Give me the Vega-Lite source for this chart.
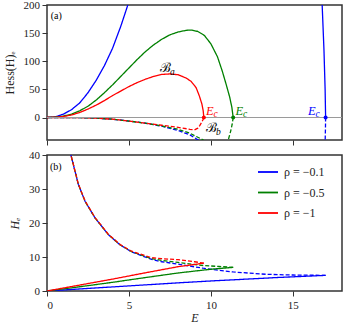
{
  "$schema": "https://vega.github.io/schema/vega-lite/v6.json",
  "padding": {"left": 2, "top": -2, "right": 0, "bottom": 0},
  "spacing": 15,
  "bounds": "flush",
  "datasets": {
    "hess": [
      {"r": "ρ = −0.1", "b": "a", "i": 0, "E": 0, "v": 0},
      {"r": "ρ = −0.1", "b": "a", "i": 1, "E": 0.5, "v": 1},
      {"r": "ρ = −0.1", "b": "a", "i": 2, "E": 1, "v": 6},
      {"r": "ρ = −0.1", "b": "a", "i": 3, "E": 1.5, "v": 14},
      {"r": "ρ = −0.1", "b": "a", "i": 4, "E": 2, "v": 26},
      {"r": "ρ = −0.1", "b": "a", "i": 5, "E": 2.5, "v": 44},
      {"r": "ρ = −0.1", "b": "a", "i": 6, "E": 3, "v": 66},
      {"r": "ρ = −0.1", "b": "a", "i": 7, "E": 3.5, "v": 92},
      {"r": "ρ = −0.1", "b": "a", "i": 8, "E": 4, "v": 123},
      {"r": "ρ = −0.1", "b": "a", "i": 9, "E": 4.5, "v": 162},
      {"r": "ρ = −0.1", "b": "a", "i": 10, "E": 5, "v": 206},
      {"r": "ρ = −0.1", "b": "a", "i": 11, "E": 5.5, "v": 255},
      {"r": "ρ = −0.1", "b": "a", "i": 12, "E": 6, "v": 310},
      {"r": "ρ = −0.1", "b": "a", "i": 13, "E": 8, "v": 500},
      {"r": "ρ = −0.1", "b": "a", "i": 14, "E": 12, "v": 700},
      {"r": "ρ = −0.1", "b": "a", "i": 15, "E": 15, "v": 600},
      {"r": "ρ = −0.1", "b": "a", "i": 16, "E": 16.4, "v": 380},
      {"r": "ρ = −0.1", "b": "a", "i": 17, "E": 16.79, "v": 200},
      {"r": "ρ = −0.1", "b": "a", "i": 18, "E": 16.9, "v": 120},
      {"r": "ρ = −0.1", "b": "a", "i": 19, "E": 16.97, "v": 50},
      {"r": "ρ = −0.1", "b": "a", "i": 20, "E": 17.0, "v": 0},
      {"r": "ρ = −0.1", "b": "b", "i": 0, "E": 17.0, "v": 0},
      {"r": "ρ = −0.1", "b": "b", "i": 1, "E": 16.99, "v": -20},
      {"r": "ρ = −0.1", "b": "b", "i": 2, "E": 16.97, "v": -45},
      {"r": "ρ = −0.1", "b": "b", "i": 3, "E": 16.8, "v": -80},
      {"r": "ρ = −0.1", "b": "b", "i": 4, "E": 14, "v": -200},
      {"r": "ρ = −0.1", "b": "b", "i": 5, "E": 10, "v": -60},
      {"r": "ρ = −0.1", "b": "b", "i": 6, "E": 9.23, "v": -40},
      {"r": "ρ = −0.1", "b": "b", "i": 7, "E": 8.72, "v": -31},
      {"r": "ρ = −0.1", "b": "b", "i": 8, "E": 8, "v": -23},
      {"r": "ρ = −0.1", "b": "b", "i": 9, "E": 7, "v": -15.5},
      {"r": "ρ = −0.1", "b": "b", "i": 10, "E": 6, "v": -10.2},
      {"r": "ρ = −0.1", "b": "b", "i": 11, "E": 5, "v": -6.3},
      {"r": "ρ = −0.1", "b": "b", "i": 12, "E": 4, "v": -3},
      {"r": "ρ = −0.1", "b": "b", "i": 13, "E": 3, "v": -1.1},
      {"r": "ρ = −0.1", "b": "b", "i": 14, "E": 2, "v": -0.3},
      {"r": "ρ = −0.1", "b": "b", "i": 15, "E": 1, "v": -0.05},
      {"r": "ρ = −0.1", "b": "b", "i": 16, "E": 0, "v": 0},
      {"r": "ρ = −0.5", "b": "a", "i": 0, "E": 0, "v": 0},
      {"r": "ρ = −0.5", "b": "a", "i": 1, "E": 0.5, "v": 0.6},
      {"r": "ρ = −0.5", "b": "a", "i": 2, "E": 1, "v": 2.5},
      {"r": "ρ = −0.5", "b": "a", "i": 3, "E": 1.5, "v": 6},
      {"r": "ρ = −0.5", "b": "a", "i": 4, "E": 2, "v": 12},
      {"r": "ρ = −0.5", "b": "a", "i": 5, "E": 2.5, "v": 20},
      {"r": "ρ = −0.5", "b": "a", "i": 6, "E": 3, "v": 31},
      {"r": "ρ = −0.5", "b": "a", "i": 7, "E": 3.5, "v": 44},
      {"r": "ρ = −0.5", "b": "a", "i": 8, "E": 4, "v": 58},
      {"r": "ρ = −0.5", "b": "a", "i": 9, "E": 4.5, "v": 73},
      {"r": "ρ = −0.5", "b": "a", "i": 10, "E": 5, "v": 88},
      {"r": "ρ = −0.5", "b": "a", "i": 11, "E": 5.5, "v": 103},
      {"r": "ρ = −0.5", "b": "a", "i": 12, "E": 6, "v": 117},
      {"r": "ρ = −0.5", "b": "a", "i": 13, "E": 6.5, "v": 129},
      {"r": "ρ = −0.5", "b": "a", "i": 14, "E": 7, "v": 139},
      {"r": "ρ = −0.5", "b": "a", "i": 15, "E": 7.5, "v": 147},
      {"r": "ρ = −0.5", "b": "a", "i": 16, "E": 8, "v": 152},
      {"r": "ρ = −0.5", "b": "a", "i": 17, "E": 8.5, "v": 155},
      {"r": "ρ = −0.5", "b": "a", "i": 18, "E": 8.8, "v": 155.5},
      {"r": "ρ = −0.5", "b": "a", "i": 19, "E": 9.2, "v": 153},
      {"r": "ρ = −0.5", "b": "a", "i": 20, "E": 9.6, "v": 146},
      {"r": "ρ = −0.5", "b": "a", "i": 21, "E": 10, "v": 131},
      {"r": "ρ = −0.5", "b": "a", "i": 22, "E": 10.4, "v": 108},
      {"r": "ρ = −0.5", "b": "a", "i": 23, "E": 10.7, "v": 82},
      {"r": "ρ = −0.5", "b": "a", "i": 24, "E": 10.95, "v": 57},
      {"r": "ρ = −0.5", "b": "a", "i": 25, "E": 11.15, "v": 36},
      {"r": "ρ = −0.5", "b": "a", "i": 26, "E": 11.28, "v": 18},
      {"r": "ρ = −0.5", "b": "a", "i": 27, "E": 11.36, "v": 0},
      {"r": "ρ = −0.5", "b": "b", "i": 0, "E": 11.36, "v": 0},
      {"r": "ρ = −0.5", "b": "b", "i": 1, "E": 11.3, "v": -12},
      {"r": "ρ = −0.5", "b": "b", "i": 2, "E": 11.2, "v": -25},
      {"r": "ρ = −0.5", "b": "b", "i": 3, "E": 11.06, "v": -40},
      {"r": "ρ = −0.5", "b": "b", "i": 4, "E": 10.9, "v": -50},
      {"r": "ρ = −0.5", "b": "b", "i": 5, "E": 10.4, "v": -58},
      {"r": "ρ = −0.5", "b": "b", "i": 6, "E": 9.9, "v": -50},
      {"r": "ρ = −0.5", "b": "b", "i": 7, "E": 9.53, "v": -40},
      {"r": "ρ = −0.5", "b": "b", "i": 8, "E": 8.72, "v": -28},
      {"r": "ρ = −0.5", "b": "b", "i": 9, "E": 8, "v": -21},
      {"r": "ρ = −0.5", "b": "b", "i": 10, "E": 7, "v": -15},
      {"r": "ρ = −0.5", "b": "b", "i": 11, "E": 6, "v": -10.1},
      {"r": "ρ = −0.5", "b": "b", "i": 12, "E": 5, "v": -6.3},
      {"r": "ρ = −0.5", "b": "b", "i": 13, "E": 4, "v": -3},
      {"r": "ρ = −0.5", "b": "b", "i": 14, "E": 3, "v": -1.1},
      {"r": "ρ = −0.5", "b": "b", "i": 15, "E": 2, "v": -0.3},
      {"r": "ρ = −0.5", "b": "b", "i": 16, "E": 1, "v": -0.05},
      {"r": "ρ = −0.5", "b": "b", "i": 17, "E": 0, "v": 0},
      {"r": "ρ = −1", "b": "a", "i": 0, "E": 0, "v": 0},
      {"r": "ρ = −1", "b": "a", "i": 1, "E": 0.5, "v": 0.3},
      {"r": "ρ = −1", "b": "a", "i": 2, "E": 1, "v": 1.8},
      {"r": "ρ = −1", "b": "a", "i": 3, "E": 1.5, "v": 4.5},
      {"r": "ρ = −1", "b": "a", "i": 4, "E": 2, "v": 9},
      {"r": "ρ = −1", "b": "a", "i": 5, "E": 2.5, "v": 15},
      {"r": "ρ = −1", "b": "a", "i": 6, "E": 3, "v": 22},
      {"r": "ρ = −1", "b": "a", "i": 7, "E": 3.5, "v": 30},
      {"r": "ρ = −1", "b": "a", "i": 8, "E": 4, "v": 39},
      {"r": "ρ = −1", "b": "a", "i": 9, "E": 4.5, "v": 47},
      {"r": "ρ = −1", "b": "a", "i": 10, "E": 5, "v": 55},
      {"r": "ρ = −1", "b": "a", "i": 11, "E": 5.5, "v": 62},
      {"r": "ρ = −1", "b": "a", "i": 12, "E": 6, "v": 68},
      {"r": "ρ = −1", "b": "a", "i": 13, "E": 6.5, "v": 73},
      {"r": "ρ = −1", "b": "a", "i": 14, "E": 7, "v": 76.5},
      {"r": "ρ = −1", "b": "a", "i": 15, "E": 7.5, "v": 77.5},
      {"r": "ρ = −1", "b": "a", "i": 16, "E": 8, "v": 76},
      {"r": "ρ = −1", "b": "a", "i": 17, "E": 8.5, "v": 70},
      {"r": "ρ = −1", "b": "a", "i": 18, "E": 8.8, "v": 64},
      {"r": "ρ = −1", "b": "a", "i": 19, "E": 9.1, "v": 53},
      {"r": "ρ = −1", "b": "a", "i": 20, "E": 9.3, "v": 38},
      {"r": "ρ = −1", "b": "a", "i": 21, "E": 9.45, "v": 24},
      {"r": "ρ = −1", "b": "a", "i": 22, "E": 9.53, "v": 12},
      {"r": "ρ = −1", "b": "a", "i": 23, "E": 9.57, "v": 0},
      {"r": "ρ = −1", "b": "b", "i": 0, "E": 9.57, "v": 0},
      {"r": "ρ = −1", "b": "b", "i": 1, "E": 9.53, "v": -3},
      {"r": "ρ = −1", "b": "b", "i": 2, "E": 9.45, "v": -8},
      {"r": "ρ = −1", "b": "b", "i": 3, "E": 9.33, "v": -14},
      {"r": "ρ = −1", "b": "b", "i": 4, "E": 9.2, "v": -19},
      {"r": "ρ = −1", "b": "b", "i": 5, "E": 9.0, "v": -22},
      {"r": "ρ = −1", "b": "b", "i": 6, "E": 8.72, "v": -21},
      {"r": "ρ = −1", "b": "b", "i": 7, "E": 8, "v": -17.5},
      {"r": "ρ = −1", "b": "b", "i": 8, "E": 7, "v": -13.8},
      {"r": "ρ = −1", "b": "b", "i": 9, "E": 6, "v": -10},
      {"r": "ρ = −1", "b": "b", "i": 10, "E": 5, "v": -6.3},
      {"r": "ρ = −1", "b": "b", "i": 11, "E": 4, "v": -3},
      {"r": "ρ = −1", "b": "b", "i": 12, "E": 3, "v": -1.2},
      {"r": "ρ = −1", "b": "b", "i": 13, "E": 2, "v": -0.3},
      {"r": "ρ = −1", "b": "b", "i": 14, "E": 1, "v": -0.05},
      {"r": "ρ = −1", "b": "b", "i": 15, "E": 0, "v": 0}
    ],
    "he": [
      {"r": "ρ = −0.1", "b": "a", "i": 0, "E": 0, "v": 0},
      {"r": "ρ = −0.1", "b": "a", "i": 1, "E": 2, "v": 0.6},
      {"r": "ρ = −0.1", "b": "a", "i": 2, "E": 4, "v": 1.2},
      {"r": "ρ = −0.1", "b": "a", "i": 3, "E": 6, "v": 1.8},
      {"r": "ρ = −0.1", "b": "a", "i": 4, "E": 8, "v": 2.4},
      {"r": "ρ = −0.1", "b": "a", "i": 5, "E": 10, "v": 2.95},
      {"r": "ρ = −0.1", "b": "a", "i": 6, "E": 12, "v": 3.45},
      {"r": "ρ = −0.1", "b": "a", "i": 7, "E": 14, "v": 3.95},
      {"r": "ρ = −0.1", "b": "a", "i": 8, "E": 17, "v": 4.6},
      {"r": "ρ = −0.1", "b": "b", "i": 0, "E": 17, "v": 4.6},
      {"r": "ρ = −0.1", "b": "b", "i": 1, "E": 15, "v": 4.7},
      {"r": "ρ = −0.1", "b": "b", "i": 2, "E": 13.4, "v": 4.9},
      {"r": "ρ = −0.1", "b": "b", "i": 3, "E": 11.36, "v": 5.6},
      {"r": "ρ = −0.1", "b": "b", "i": 4, "E": 9.53, "v": 6.7},
      {"r": "ρ = −0.1", "b": "b", "i": 5, "E": 8, "v": 7.9},
      {"r": "ρ = −0.1", "b": "b", "i": 6, "E": 7, "v": 8.6},
      {"r": "ρ = −0.1", "b": "b", "i": 7, "E": 6.38, "v": 9.3},
      {"r": "ρ = −0.1", "b": "b", "i": 8, "E": 5.16, "v": 11.5},
      {"r": "ρ = −0.1", "b": "b", "i": 9, "E": 4.45, "v": 13.6},
      {"r": "ρ = −0.1", "b": "b", "i": 10, "E": 3.74, "v": 16.6},
      {"r": "ρ = −0.1", "b": "b", "i": 11, "E": 2.93, "v": 21.5},
      {"r": "ρ = −0.1", "b": "b", "i": 12, "E": 2.32, "v": 26.4},
      {"r": "ρ = −0.1", "b": "b", "i": 13, "E": 1.91, "v": 31.4},
      {"r": "ρ = −0.1", "b": "b", "i": 14, "E": 1.46, "v": 40},
      {"r": "ρ = −0.1", "b": "b", "i": 15, "E": 1.3, "v": 45},
      {"r": "ρ = −0.5", "b": "a", "i": 0, "E": 0, "v": 0},
      {"r": "ρ = −0.5", "b": "a", "i": 1, "E": 2, "v": 1.25},
      {"r": "ρ = −0.5", "b": "a", "i": 2, "E": 4, "v": 2.55},
      {"r": "ρ = −0.5", "b": "a", "i": 3, "E": 6, "v": 3.95},
      {"r": "ρ = −0.5", "b": "a", "i": 4, "E": 8, "v": 5.3},
      {"r": "ρ = −0.5", "b": "a", "i": 5, "E": 10, "v": 6.4},
      {"r": "ρ = −0.5", "b": "a", "i": 6, "E": 11.36, "v": 6.95},
      {"r": "ρ = −0.5", "b": "b", "i": 0, "E": 11.36, "v": 6.95},
      {"r": "ρ = −0.5", "b": "b", "i": 1, "E": 10.5, "v": 7.2},
      {"r": "ρ = −0.5", "b": "b", "i": 2, "E": 9.53, "v": 7.5},
      {"r": "ρ = −0.5", "b": "b", "i": 3, "E": 8, "v": 8.4},
      {"r": "ρ = −0.5", "b": "b", "i": 4, "E": 7, "v": 9.0},
      {"r": "ρ = −0.5", "b": "b", "i": 5, "E": 6.38, "v": 9.5},
      {"r": "ρ = −0.5", "b": "b", "i": 6, "E": 5.16, "v": 11.6},
      {"r": "ρ = −0.5", "b": "b", "i": 7, "E": 4.45, "v": 13.6},
      {"r": "ρ = −0.5", "b": "b", "i": 8, "E": 3.74, "v": 16.6},
      {"r": "ρ = −0.5", "b": "b", "i": 9, "E": 2.93, "v": 21.5},
      {"r": "ρ = −0.5", "b": "b", "i": 10, "E": 2.32, "v": 26.4},
      {"r": "ρ = −0.5", "b": "b", "i": 11, "E": 1.91, "v": 31.4},
      {"r": "ρ = −0.5", "b": "b", "i": 12, "E": 1.46, "v": 40},
      {"r": "ρ = −0.5", "b": "b", "i": 13, "E": 1.3, "v": 45},
      {"r": "ρ = −1", "b": "a", "i": 0, "E": 0, "v": 0},
      {"r": "ρ = −1", "b": "a", "i": 1, "E": 2, "v": 1.75},
      {"r": "ρ = −1", "b": "a", "i": 2, "E": 4, "v": 3.5},
      {"r": "ρ = −1", "b": "a", "i": 3, "E": 6, "v": 5.35},
      {"r": "ρ = −1", "b": "a", "i": 4, "E": 8, "v": 7.15},
      {"r": "ρ = −1", "b": "a", "i": 5, "E": 9, "v": 7.8},
      {"r": "ρ = −1", "b": "a", "i": 6, "E": 9.57, "v": 8.2},
      {"r": "ρ = −1", "b": "b", "i": 0, "E": 9.57, "v": 8.2},
      {"r": "ρ = −1", "b": "b", "i": 1, "E": 9, "v": 8.6},
      {"r": "ρ = −1", "b": "b", "i": 2, "E": 8, "v": 9.2},
      {"r": "ρ = −1", "b": "b", "i": 3, "E": 7, "v": 9.5},
      {"r": "ρ = −1", "b": "b", "i": 4, "E": 6.38, "v": 9.8},
      {"r": "ρ = −1", "b": "b", "i": 5, "E": 5.16, "v": 11.7},
      {"r": "ρ = −1", "b": "b", "i": 6, "E": 4.45, "v": 13.7},
      {"r": "ρ = −1", "b": "b", "i": 7, "E": 3.74, "v": 16.7},
      {"r": "ρ = −1", "b": "b", "i": 8, "E": 2.93, "v": 21.6},
      {"r": "ρ = −1", "b": "b", "i": 9, "E": 2.32, "v": 26.5},
      {"r": "ρ = −1", "b": "b", "i": 10, "E": 1.91, "v": 31.5},
      {"r": "ρ = −1", "b": "b", "i": 11, "E": 1.46, "v": 40},
      {"r": "ρ = −1", "b": "b", "i": 12, "E": 1.3, "v": 45}
    ],
    "ec": [
      {"r": "ρ = −0.1", "E": 17.0, "v": 0, "c": "#0000ff"},
      {"r": "ρ = −0.5", "E": 11.36, "v": 0, "c": "#008000"},
      {"r": "ρ = −1", "E": 9.57, "v": 0, "c": "#ff0000"}
    ],
    "ecl": [
      {"E": 15.93, "v": 0, "c": "#0000ff"},
      {"E": 11.5, "v": 0, "c": "#008000"},
      {"E": 9.7, "v": 0, "c": "#ff0000"}
    ],
    "br": [
      {"E": 6.9, "v": 80.7, "s": "a"},
      {"E": 9.7, "v": -25.5, "s": "b"}
    ]
  },
  "resolve": {"scale": {"color": "independent", "strokeDash": "independent"}, "legend": {"color": "independent"}},
  "vconcat": [
    {
      "width": 295,
      "height": 135,
      "layer": [
        {
          "data": {"name": "hess"},
          "mark": {"type": "line", "clip": true, "strokeWidth": 1.3},
          "encoding": {
            "x": {"field": "E", "type": "quantitative", "scale": {"domain": [0, 18], "nice": false}, "axis": {"values": [0, 5, 10, 15], "labels": false, "title": null}},
            "y": {"field": "v", "type": "quantitative", "scale": {"domain": [-40, 200], "nice": false, "zero": false}, "axis": {"values": [0, 50, 100, 150, 200], "title": "Hess(H)ₑ"}},
            "color": {"field": "r", "type": "nominal", "scale": {"domain": ["ρ = −0.1", "ρ = −0.5", "ρ = −1"], "range": ["#0000ff", "#008000", "#ff0000"]}, "legend": null},
            "strokeDash": {"field": "b", "type": "nominal", "scale": {"domain": ["a", "b"], "range": [[1, 0], [4, 2]]}, "legend": null},
            "order": {"field": "i", "type": "quantitative"}
          }
        },
        {
          "data": {"values": [{"v": 0}]},
          "mark": {"type": "rule", "color": "#9a9a9a", "strokeWidth": 1},
          "encoding": {"y": {"field": "v", "type": "quantitative", "axis": {"values": [0, 50, 100, 150, 200], "title": "Hess(H)ₑ"}}}
        },
        {
          "data": {"name": "ec"},
          "mark": {"type": "point", "filled": true, "opacity": 1, "size": 16},
          "encoding": {
            "x": {"field": "E", "type": "quantitative", "axis": {"values": [0, 5, 10, 15], "labels": false, "title": null}},
            "y": {"field": "v", "type": "quantitative", "axis": {"values": [0, 50, 100, 150, 200], "title": "Hess(H)ₑ"}},
            "color": {"field": "r", "type": "nominal", "legend": null}
          }
        },
        {
          "data": {"name": "ecl"},
          "mark": {"type": "text", "text": "E", "font": "Liberation Serif", "fontStyle": "italic", "fontSize": 12.5, "align": "left", "baseline": "alphabetic", "dy": -3},
          "encoding": {
            "x": {"field": "E", "type": "quantitative", "axis": {"values": [0, 5, 10, 15], "labels": false, "title": null}},
            "y": {"field": "v", "type": "quantitative", "axis": {"values": [0, 50, 100, 150, 200], "title": "Hess(H)ₑ"}},
            "color": {"field": "c", "type": "nominal", "scale": null}
          }
        },
        {
          "data": {"name": "ecl"},
          "mark": {"type": "text", "text": "c", "font": "Liberation Serif", "fontStyle": "italic", "fontSize": 9.5, "align": "left", "baseline": "alphabetic", "dx": 7.5, "dy": -1},
          "encoding": {
            "x": {"field": "E", "type": "quantitative", "axis": {"values": [0, 5, 10, 15], "labels": false, "title": null}},
            "y": {"field": "v", "type": "quantitative", "axis": {"values": [0, 50, 100, 150, 200], "title": "Hess(H)ₑ"}},
            "color": {"field": "c", "type": "nominal", "scale": null}
          }
        },
        {
          "data": {"name": "br"},
          "mark": {"type": "text", "text": "ℬ", "font": "DejaVu Serif", "fontSize": 13, "align": "left", "baseline": "alphabetic", "color": "black"},
          "encoding": {
            "x": {"field": "E", "type": "quantitative", "axis": {"values": [0, 5, 10, 15], "labels": false, "title": null}},
            "y": {"field": "v", "type": "quantitative", "axis": {"values": [0, 50, 100, 150, 200], "title": "Hess(H)ₑ"}}
          }
        },
        {
          "data": {"name": "br"},
          "mark": {"type": "text", "font": "Liberation Serif", "fontStyle": "italic", "fontSize": 9.5, "align": "left", "baseline": "alphabetic", "dx": 10, "dy": 3, "color": "black"},
          "encoding": {
            "x": {"field": "E", "type": "quantitative", "axis": {"values": [0, 5, 10, 15], "labels": false, "title": null}},
            "y": {"field": "v", "type": "quantitative", "axis": {"values": [0, 50, 100, 150, 200], "title": "Hess(H)ₑ"}},
            "text": {"field": "s"}
          }
        },
        {
          "data": {"values": [{"E": 0.23, "v": 175, "t": "(a)"}]},
          "mark": {"type": "text", "font": "Liberation Serif", "fontSize": 10, "align": "left", "baseline": "alphabetic", "color": "black"},
          "encoding": {
            "x": {"field": "E", "type": "quantitative", "axis": {"values": [0, 5, 10, 15], "labels": false, "title": null}},
            "y": {"field": "v", "type": "quantitative", "axis": {"values": [0, 50, 100, 150, 200], "title": "Hess(H)ₑ"}},
            "text": {"field": "t"}
          }
        }
      ]
    },
    {
      "width": 295,
      "height": 136,
      "layer": [
        {
          "data": {"name": "he"},
          "mark": {"type": "line", "clip": true, "strokeWidth": 1.3},
          "encoding": {
            "x": {"field": "E", "type": "quantitative", "scale": {"domain": [0, 18], "nice": false}, "axis": {"values": [0, 5, 10, 15], "title": "E", "titleFontStyle": "italic"}},
            "y": {"field": "v", "type": "quantitative", "scale": {"domain": [0, 40], "nice": false}, "axis": {"values": [0, 10, 20, 30, 40], "title": "Hₑ", "titleFontStyle": "italic"}},
            "color": {"field": "r", "type": "nominal", "scale": {"domain": ["ρ = −0.1", "ρ = −0.5", "ρ = −1"], "range": ["#0000ff", "#008000", "#ff0000"]}, "legend": {"orient": "none", "legendX": 210, "legendY": 6, "title": null}},
            "strokeDash": {"field": "b", "type": "nominal", "scale": {"domain": ["a", "b"], "range": [[1, 0], [4, 2]]}, "legend": null},
            "order": {"field": "i", "type": "quantitative"}
          }
        },
        {
          "data": {"values": [{"E": 0.18, "v": 35.6, "t": "(b)"}]},
          "mark": {"type": "text", "font": "Liberation Serif", "fontSize": 10, "align": "left", "baseline": "alphabetic", "color": "black"},
          "encoding": {
            "x": {"field": "E", "type": "quantitative", "axis": {"values": [0, 5, 10, 15], "title": "E", "titleFontStyle": "italic"}},
            "y": {"field": "v", "type": "quantitative", "axis": {"values": [0, 10, 20, 30, 40], "title": "Hₑ", "titleFontStyle": "italic"}},
            "text": {"field": "t"}
          }
        }
      ]
    }
  ],
  "config": {
    "font": "Liberation Serif",
    "view": {"stroke": "#333333", "strokeWidth": 1.5},
    "axis": {
      "grid": false,
      "domain": false,
      "tickColor": "#333333",
      "tickSize": 5,
      "tickWidth": 1,
      "labelOverlap": false,
      "labelFont": "Liberation Serif",
      "labelFontSize": 11,
      "labelColor": "#222222",
      "labelPadding": 2.5,
      "titleFont": "Liberation Serif",
      "titleFontSize": 12,
      "titleFontWeight": "normal",
      "titleColor": "#222222"
    },
    "axisY": {"titlePadding": 7},
    "axisX": {"titlePadding": 2, "labelPadding": 3},
    "legend": {
      "symbolType": "stroke",
      "symbolSize": 400,
      "symbolStrokeWidth": 1.8,
      "labelFont": "Liberation Serif",
      "labelFontSize": 12,
      "labelColor": "#222222",
      "labelOffset": 5,
      "rowPadding": 3.5,
      "padding": 0
    }
  }
}
